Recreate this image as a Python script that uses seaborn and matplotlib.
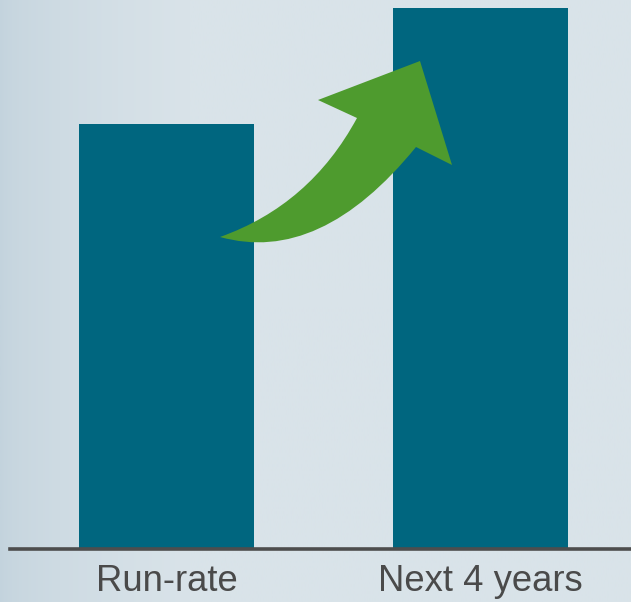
import numpy as np
import pandas as pd
import matplotlib
matplotlib.use("Agg")
import matplotlib.pyplot as plt
from matplotlib.path import Path
from matplotlib.patches import PathPatch
import seaborn as sns

categories = ["Run-rate", "Next 4 years"]
values = [425, 541]

sns.set_style("white")
plt.rcParams['font.family'] = ['Liberation Sans', 'DejaVu Sans']

W, H = 631, 602
fig = plt.figure(figsize=(W / 100, H / 100), dpi=100)

# background gradient
bg = fig.add_axes([0, 0, 1, 1], zorder=-10)
grad = np.linspace(0, 1, 400)
c_left = np.array([0xc3, 0xd3, 0xdd]) / 255
c_right = np.array([0xd9, 0xe3, 0xe9]) / 255
t = np.clip(grad / 0.3, 0, 1) ** 0.6
img = c_left[None, :] * (1 - t[:, None]) + c_right[None, :] * t[:, None]
bg.imshow(img[None, :, :], aspect='auto', extent=[0, 1, 0, 1])
bg.set_axis_off()

ax = fig.add_axes([10 / W, (H - 549) / H, (W - 10) / W, 549 / H])
ax.patch.set_alpha(0)
df = pd.DataFrame({"cat": categories, "val": values})
sns.barplot(data=df, x="cat", y="val", color="#00667f", saturation=1,
            width=0.557, ax=ax, zorder=2, linewidth=0, edgecolor="none")
ax.set_xlim(-0.498, 1.479)
ax.set_ylim(0, 549)
ax.set_xlabel("")
ax.set_ylabel("")
ax.set_yticks([])
for s in ["top", "right", "left"]:
    ax.spines[s].set_visible(False)
ax.spines["bottom"].set_color("#4d4d4d")
ax.spines["bottom"].set_linewidth(2.6)
ax.spines["bottom"].set_zorder(3)
ax.tick_params(axis="x", length=0, pad=11, labelsize=26.3, labelcolor="#4a4a4a")

# green curved arrow (figure pixel coordinates)
def P(x, y):
    return (x / W, (H - y) / H)

verts = [P(220, 237), P(310, 205), P(357, 118),
         P(318, 100), P(420, 61), P(452, 165), P(416, 147),
         P(320, 265), P(220, 237), P(220, 237)]
codes = [Path.MOVETO, Path.CURVE3, Path.CURVE3,
         Path.LINETO, Path.LINETO, Path.LINETO, Path.LINETO,
         Path.CURVE3, Path.CURVE3, Path.CLOSEPOLY]
arrow = PathPatch(Path(verts, codes), facecolor="#4e9b2e", edgecolor="none",
                  transform=fig.transFigure, zorder=5)
fig.patches.append(arrow)

fig.savefig("out.png", dpi=100)
